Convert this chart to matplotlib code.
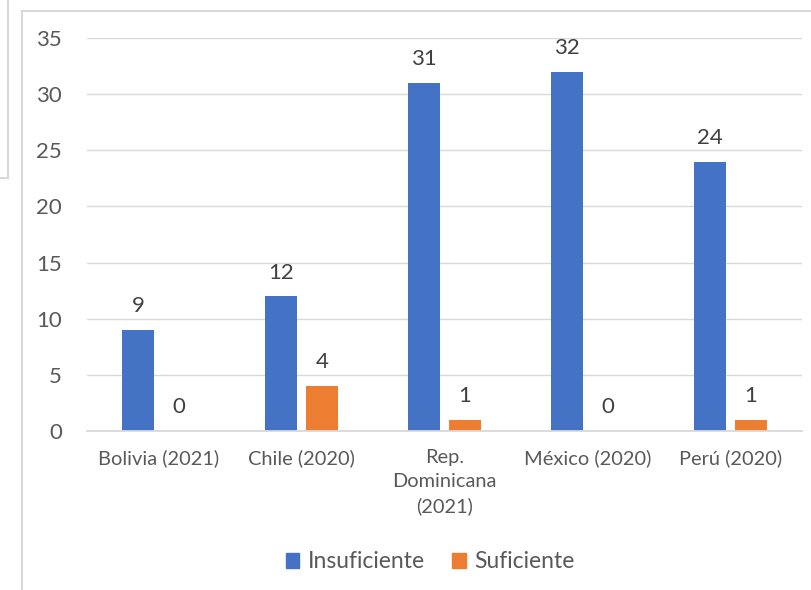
import matplotlib
matplotlib.use("Agg")
import matplotlib.pyplot as plt
from matplotlib.lines import Line2D
from matplotlib.patches import Patch
import numpy as np

plt.rcParams["font.family"] = ["Lato", "DejaVu Sans"]

# values per country (count of cases)
categories = ["Bolivia (2021)", "Chile (2020)", "Rep.\nDominicana\n(2021)",
              "México (2020)", "Perú (2020)"]
insuficiente = [9, 12, 31, 32, 24]
suficiente = [0, 4, 1, 0, 1]
series_names = ["Insuficiente", "Suficiente"]

BLUE = "#4472C4"
ORANGE = "#ED7D31"
GRID = "#D9D9D9"
TICK_TEXT = "#595959"
LABEL_TEXT = "#404040"

W, H = 811, 590
fig = plt.figure(figsize=(W / 100, H / 100), dpi=100)
ax = fig.add_axes([87 / W, (H - 431) / H, (802 - 87) / W, (431 - 38) / H])

x = np.arange(len(categories))
width = 0.224
offset = 0.143
bars_a = ax.bar(x - offset, insuficiente, width, color=BLUE, zorder=3)
bars_b = ax.bar(x + offset, suficiente, width, color=ORANGE, zorder=3)

for bars in (bars_a, bars_b):
    for rect in bars:
        h = rect.get_height()
        ax.annotate(f"{h:g}", (rect.get_x() + rect.get_width() / 2, h),
                    xytext=(0, 17), textcoords="offset points",
                    ha="center", va="center", fontsize=16, color=LABEL_TEXT)

ax.set_xlim(-0.5, len(categories) - 0.5)
ax.set_ylim(0, 35)
ax.set_yticks(range(0, 36, 5))
ax.set_xticks(x)
ax.set_xticklabels(categories, linespacing=1.5)
ax.tick_params(axis="x", length=0, pad=13, labelsize=14.4, labelcolor=TICK_TEXT)
ax.tick_params(axis="y", length=0, pad=18, labelsize=16, labelcolor=TICK_TEXT)
ax.grid(axis="y", color=GRID, linewidth=1, zorder=0)
for side in ("top", "right", "left"):
    ax.spines[side].set_visible(False)
ax.spines["bottom"].set_color(GRID)
ax.spines["bottom"].set_linewidth(1.3)
ax.spines["bottom"].set_zorder(4)

handles = [Patch(color=BLUE), Patch(color=ORANGE)]
fig.legend(handles, series_names, loc="center", bbox_to_anchor=(430 / W, 1 - 562 / H),
           ncol=2, frameon=False, fontsize=16.5, labelcolor=TICK_TEXT,
           handlelength=0.6, handleheight=0.6, handletextpad=0.35,
           columnspacing=1.2)

# chart frame edges
def px_line(xs, ys):
    fig.add_artist(Line2D([v / W for v in xs], [1 - v / H for v in ys],
                          color=GRID, linewidth=1.5))

px_line([21.5, 21.5], [590, 10.5])
px_line([21.5, 811], [10.5, 10.5])
px_line([7.5, 7.5], [0, 178.5])
px_line([0, 7.5], [178.5, 178.5])

fig.savefig("out.png", dpi=100)
